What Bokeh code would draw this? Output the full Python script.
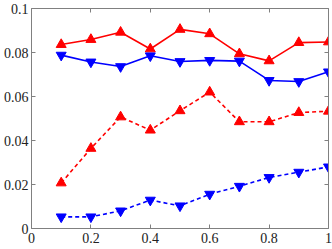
from bokeh.plotting import figure
from bokeh.models import LinearAxis, Range1d, FixedTicker
from bokeh.embed import file_html
from bokeh.resources import INLINE

x = [0.1, 0.2, 0.3, 0.4, 0.5, 0.6, 0.7, 0.8, 0.9, 1.0]
red_solid = [0.0836, 0.0859, 0.0892, 0.0816, 0.0905, 0.0885, 0.0794, 0.0762, 0.0845, 0.0848]
blue_solid = [0.0788, 0.0757, 0.0736, 0.0785, 0.0759, 0.0764, 0.0761, 0.0673, 0.0668, 0.0712]
red_dashed = [0.0207, 0.0364, 0.0507, 0.0447, 0.0535, 0.0620, 0.0485, 0.0485, 0.0527, 0.0533]
blue_dashed = [0.0053, 0.0053, 0.0080, 0.0129, 0.0103, 0.0156, 0.0192, 0.0232, 0.0256, 0.0280]

x_ticks = [0, 0.2, 0.4, 0.6, 0.8, 1.0]
x_tick_labels = ["0", "0.2", "0.4", "0.6", "0.8", "1"]
y_ticks = [0, 0.02, 0.04, 0.06, 0.08, 0.1]
y_tick_labels = ["0", "0.02", "0.04", "0.06", "0.08", "0.1"]

FONT = "Liberation Serif"
GRAY = "#808080"

p = figure(width=332, height=249, output_backend="svg", toolbar_location=None,
           x_range=Range1d(0, 1), y_range=Range1d(0, 0.1),
           min_border_left=29, min_border_right=4, min_border_top=8, min_border_bottom=21)
p.outline_line_color = None
p.xgrid.visible = False
p.ygrid.visible = False
p.background_fill_color = "white"
p.border_fill_color = "white"


def style_axis(ax, ticks, labels, show_labels=True):
    ax.ticker = FixedTicker(ticks=ticks)
    ax.major_label_overrides = {t: (l if show_labels else "") for t, l in zip(ticks, labels)}
    ax.axis_line_color = GRAY
    ax.major_tick_line_color = GRAY
    ax.major_tick_in = 4
    ax.major_tick_out = 0
    ax.minor_tick_line_color = None
    ax.major_label_text_font = FONT
    ax.major_label_text_color = "#222222"
    if show_labels:
        ax.major_label_text_font_size = "14px"
        ax.major_label_standoff = 4
    else:
        ax.major_label_text_font_size = "0px"
        ax.major_label_standoff = 0


style_axis(p.xaxis[0], x_ticks, x_tick_labels)
style_axis(p.yaxis[0], y_ticks, y_tick_labels)
p.yaxis[0].major_label_standoff = 3

top_ax = LinearAxis()
style_axis(top_ax, x_ticks, x_tick_labels, show_labels=False)
p.add_layout(top_ax, "above")
right_ax = LinearAxis()
style_axis(right_ax, y_ticks, y_tick_labels, show_labels=False)
p.add_layout(right_ax, "right")

RED = "#ff0000"
BLUE = "#0000ff"

p.line(x, red_solid, line_color=RED, line_width=1.6)
p.scatter(x, red_solid, marker="triangle", size=10, fill_color=RED, line_color=RED)
p.line(x, blue_solid, line_color=BLUE, line_width=1.6)
p.scatter(x, blue_solid, marker="inverted_triangle", size=10, fill_color=BLUE, line_color=BLUE)
p.line(x, red_dashed, line_color=RED, line_width=1.6, line_dash="4 3")
p.scatter(x, red_dashed, marker="triangle", size=10, fill_color=RED, line_color=RED)
p.line(x, blue_dashed, line_color=BLUE, line_width=1.6, line_dash="4 3")
p.scatter(x, blue_dashed, marker="inverted_triangle", size=10, fill_color=BLUE, line_color=BLUE)

open("out.html", "w").write(file_html(p, INLINE))
